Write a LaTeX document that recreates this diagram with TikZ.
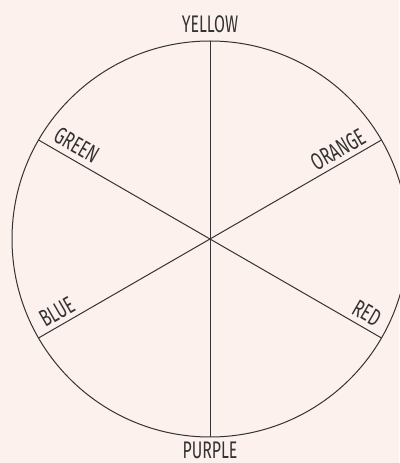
\documentclass[tikz,border=0pt]{standalone}
\usepackage{fontspec}
\usetikzlibrary{calc}
\setmainfont{Fira Sans}[FakeStretch=0.66]
\definecolor{bg}{HTML}{FDF1EE}
\definecolor{ink}{HTML}{333333}
\definecolor{txt}{HTML}{333333}
\begin{document}
\begin{tikzpicture}[x=1pt,y=1pt,
  spoke/.style={draw=ink,line width=1pt},
  lbl/.style={text=txt,font=\fontsize{24}{28}\selectfont,inner sep=0pt,outer sep=0pt}]
\useasboundingbox (0,0) rectangle (399,463);
\fill[bg] (0,0) rectangle (399,463);
\node[circle,draw=ink,line width=1pt,minimum size=396pt,inner sep=0pt,outer sep=0pt] (wheel) at (210,224) {};
\draw[spoke] (wheel.90) -- (wheel.270);
\draw[spoke] (wheel.150) -- (wheel.330);
\draw[spoke] (wheel.210) -- (wheel.30);
\node[lbl] (yellow) at (210,438.5) {YELLOW};
\node[lbl] (purple) at (210,12.5) {PURPLE};
\node[lbl,rotate=-30,anchor=south west] (green) at ($(wheel.center)+(150:186)+(60:6)$) {GREEN};
\node[lbl,rotate=30,anchor=south east] (orange) at ($(wheel.center)+(30:185)+(120:5)$) {ORANGE};
\node[lbl,rotate=30,anchor=south west] (blue) at ($(wheel.center)+(210:187)+(120:5)$) {BLUE};
\node[lbl,rotate=-30,anchor=south east] (red) at ($(wheel.center)+(-30:187)+(60:6)$) {RED};
\end{tikzpicture}
\end{document}
